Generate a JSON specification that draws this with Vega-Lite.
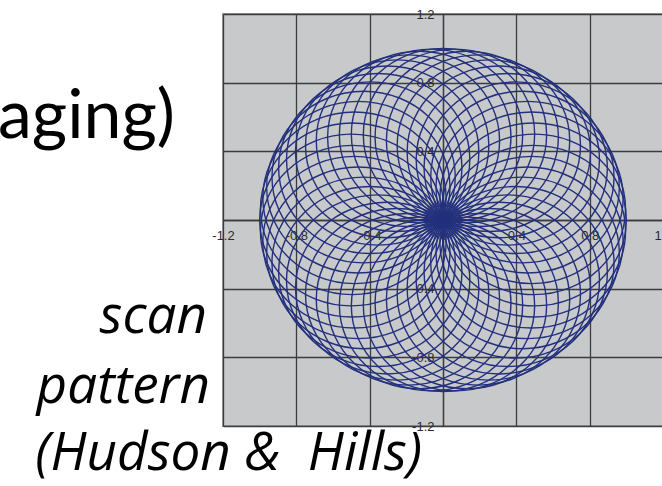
{
  "$schema": "https://vega.github.io/schema/vega-lite/v6.json",
  "width": 440,
  "height": 412,
  "autosize": {"type": "none"},
  "padding": {"left": 223, "top": 14, "right": 0, "bottom": 60},
  "background": "white",
  "config": {
    "view": {"fill": "#c8c9cb", "stroke": "#9c9c9c", "strokeWidth": 2},
    "locale": {"number": {"decimal": ".", "thousands": ",", "grouping": [3], "currency": ["$", ""], "minus": "-"}}
  },
  "layer": [
    {
      "data": {
        "values": [
          {"angle": 0, "cx": 0.5, "cy": 0},
          {"angle": 7.5, "cx": 0.4957, "cy": 0.0653},
          {"angle": 15, "cx": 0.483, "cy": 0.1294},
          {"angle": 22.5, "cx": 0.4619, "cy": 0.1913},
          {"angle": 30, "cx": 0.433, "cy": 0.25},
          {"angle": 37.5, "cx": 0.3967, "cy": 0.3044},
          {"angle": 45, "cx": 0.3536, "cy": 0.3536},
          {"angle": 52.5, "cx": 0.3044, "cy": 0.3967},
          {"angle": 60, "cx": 0.25, "cy": 0.433},
          {"angle": 67.5, "cx": 0.1913, "cy": 0.4619},
          {"angle": 75, "cx": 0.1294, "cy": 0.483},
          {"angle": 82.5, "cx": 0.0653, "cy": 0.4957},
          {"angle": 90, "cx": 0, "cy": 0.5},
          {"angle": 97.5, "cx": -0.0653, "cy": 0.4957},
          {"angle": 105, "cx": -0.1294, "cy": 0.483},
          {"angle": 112.5, "cx": -0.1913, "cy": 0.4619},
          {"angle": 120, "cx": -0.25, "cy": 0.433},
          {"angle": 127.5, "cx": -0.3044, "cy": 0.3967},
          {"angle": 135, "cx": -0.3536, "cy": 0.3536},
          {"angle": 142.5, "cx": -0.3967, "cy": 0.3044},
          {"angle": 150, "cx": -0.433, "cy": 0.25},
          {"angle": 157.5, "cx": -0.4619, "cy": 0.1913},
          {"angle": 165, "cx": -0.483, "cy": 0.1294},
          {"angle": 172.5, "cx": -0.4957, "cy": 0.0653},
          {"angle": 180, "cx": -0.5, "cy": 0},
          {"angle": 187.5, "cx": -0.4957, "cy": -0.0653},
          {"angle": 195, "cx": -0.483, "cy": -0.1294},
          {"angle": 202.5, "cx": -0.4619, "cy": -0.1913},
          {"angle": 210, "cx": -0.433, "cy": -0.25},
          {"angle": 217.5, "cx": -0.3967, "cy": -0.3044},
          {"angle": 225, "cx": -0.3536, "cy": -0.3536},
          {"angle": 232.5, "cx": -0.3044, "cy": -0.3967},
          {"angle": 240, "cx": -0.25, "cy": -0.433},
          {"angle": 247.5, "cx": -0.1913, "cy": -0.4619},
          {"angle": 255, "cx": -0.1294, "cy": -0.483},
          {"angle": 262.5, "cx": -0.0653, "cy": -0.4957},
          {"angle": 270, "cx": 0, "cy": -0.5},
          {"angle": 277.5, "cx": 0.0653, "cy": -0.4957},
          {"angle": 285, "cx": 0.1294, "cy": -0.483},
          {"angle": 292.5, "cx": 0.1913, "cy": -0.4619},
          {"angle": 300, "cx": 0.25, "cy": -0.433},
          {"angle": 307.5, "cx": 0.3044, "cy": -0.3967},
          {"angle": 315, "cx": 0.3536, "cy": -0.3536},
          {"angle": 322.5, "cx": 0.3967, "cy": -0.3044},
          {"angle": 330, "cx": 0.433, "cy": -0.25},
          {"angle": 337.5, "cx": 0.4619, "cy": -0.1913},
          {"angle": 345, "cx": 0.483, "cy": -0.1294},
          {"angle": 352.5, "cx": 0.4957, "cy": -0.0653}
        ]
      },
      "mark": {
        "type": "point",
        "shape": "M-1,0A1,0.9363,0,1,1,1,0A1,0.9363,0,1,1,-1,0Z",
        "size": 33611,
        "filled": false,
        "stroke": "#23307c",
        "strokeWidth": 1.4,
        "opacity": 1
      },
      "encoding": {
        "x": {
          "field": "cx",
          "type": "quantitative",
          "scale": {"domain": [-1.2, 1.2], "nice": false, "zero": false},
          "axis": {
            "title": null,
            "values": [-1.2, -0.8, -0.4, 0, 0.4, 0.8, 1.2],
            "format": ".1~f",
            "offset": -206,
            "grid": true,
            "gridColor": "#3c3c3c",
            "gridWidth": 1.3,
            "gridOpacity": 1,
            "domainColor": "#3c3c3c",
            "domainWidth": 1.3,
            "tickColor": "#3c3c3c",
            "tickSize": 4,
            "labelPadding": 5,
            "labelFont": "Liberation Sans",
            "labelFontSize": 13,
            "labelColor": "#2a2a2a",
            "labelFlush": false,
            "labelOverlap": false
          }
        },
        "y": {
          "field": "cy",
          "type": "quantitative",
          "scale": {"domain": [-1.2, 1.2], "nice": false, "zero": false},
          "axis": {
            "title": null,
            "values": [-1.2, -0.8, -0.4, 0, 0.4, 0.8, 1.2],
            "format": ".1~f",
            "offset": -220,
            "grid": true,
            "gridColor": "#3c3c3c",
            "gridWidth": 1.3,
            "gridOpacity": 1,
            "domainColor": "#3c3c3c",
            "domainWidth": 1.3,
            "tickColor": "#3c3c3c",
            "tickSize": 4,
            "labelPadding": 5,
            "labelFont": "Liberation Sans",
            "labelFontSize": 13,
            "labelColor": "#2a2a2a",
            "labelFlush": false,
            "labelOverlap": false
          }
        }
      }
    },
    {
      "data": {"values": [{"label": "aging)", "x": -1.4618, "y": 0.4777}]},
      "mark": {"type": "text", "align": "right", "baseline": "alphabetic", "font": "Lato", "fontSize": 68, "color": "#000000"},
      "encoding": {
        "x": {"field": "x", "type": "quantitative"},
        "y": {"field": "y", "type": "quantitative"},
        "text": {"field": "label"}
      }
    },
    {
      "data": {
        "values": [
          {"label": "scan", "x": -1.2873, "y": -0.6582},
          {"label": "pattern", "x": -1.2709, "y": -1.066},
          {"label": "(Hudson &\u00a0 Hills)", "x": -0.1145, "y": -1.4563}
        ]
      },
      "mark": {"type": "text", "align": "right", "baseline": "alphabetic", "font": "Open Sans", "fontStyle": "italic", "fontSize": 53, "color": "#000000"},
      "encoding": {
        "x": {"field": "x", "type": "quantitative"},
        "y": {"field": "y", "type": "quantitative"},
        "text": {"field": "label"}
      }
    }
  ]
}
